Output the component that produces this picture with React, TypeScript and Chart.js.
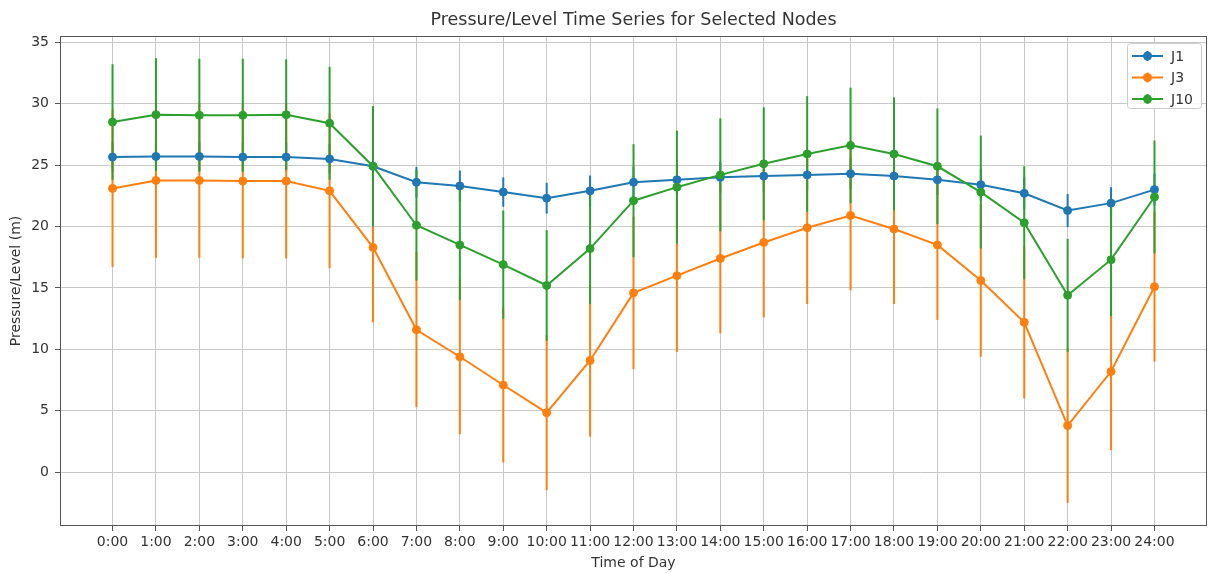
import { useEffect, useRef } from "react";
import { Chart, registerables } from "chart.js";

Chart.register(...registerables);

const hours = [0, 1, 2, 3, 4, 5, 6, 7, 8, 9, 10, 11, 12, 13, 14, 15, 16, 17, 18, 19, 20, 21, 22, 23, 24];
const hourLabels = [
  "0:00", "1:00", "2:00", "3:00", "4:00", "5:00", "6:00", "7:00", "8:00", "9:00", "10:00", "11:00",
  "12:00", "13:00", "14:00", "15:00", "16:00", "17:00", "18:00", "19:00", "20:00", "21:00", "22:00",
  "23:00", "24:00",
];
const yTicks = [0, 5, 10, 15, 20, 25, 30, 35];
const seriesNames = ["J1", "J3", "J10"];

const j1 = [25.65, 25.7, 25.7, 25.65, 25.65, 25.5, 24.9, 23.6, 23.3, 22.8, 22.3, 22.9, 23.6, 23.8, 24.0, 24.1, 24.2, 24.3, 24.1, 23.8, 23.4, 22.7, 21.3, 21.9, 23.0];
const j1Err = [1.2, 1.2, 1.2, 1.2, 1.2, 1.2, 1.25, 1.25, 1.25, 1.2, 1.25, 1.25, 1.25, 1.25, 1.25, 1.25, 1.25, 1.25, 1.25, 1.25, 1.3, 1.3, 1.35, 1.3, 1.3];

const j3 = [23.1, 23.75, 23.75, 23.7, 23.7, 22.9, 18.3, 11.6, 9.4, 7.1, 4.85, 9.1, 14.6, 16.0, 17.4, 18.7, 19.9, 20.9, 19.8, 18.5, 15.6, 12.2, 3.8, 8.2, 15.1];
const j3Err = [6.4, 6.3, 6.3, 6.3, 6.3, 6.3, 6.1, 6.3, 6.3, 6.3, 6.3, 6.2, 6.2, 6.2, 6.1, 6.1, 6.2, 6.1, 6.1, 6.1, 6.2, 6.2, 6.3, 6.4, 6.1];

const j10 = [28.5, 29.1, 29.05, 29.05, 29.1, 28.4, 24.9, 20.1, 18.5, 16.9, 15.2, 18.2, 22.1, 23.2, 24.2, 25.1, 25.9, 26.6, 25.9, 24.9, 22.8, 20.3, 14.4, 17.3, 22.4];
const j10Err = [4.7, 4.6, 4.6, 4.6, 4.5, 4.6, 4.9, 4.5, 4.5, 4.4, 4.5, 4.5, 4.6, 4.6, 4.6, 4.6, 4.7, 4.7, 4.6, 4.7, 4.6, 4.6, 4.6, 4.6, 4.6];

const colors = ["#1f77b4", "#ff7f0e", "#2ca02c"];
const FONT = "'DejaVu Sans', sans-serif";
const TEXT = "#333333";

export default function App() {
  const ref = useRef<HTMLCanvasElement>(null);

  useEffect(() => {
    document.body.style.margin = "0";
    if (!ref.current) return;
    const values = [j1, j3, j10];
    const errs = [j1Err, j3Err, j10Err];

    const errorBars = {
      id: "errorBars",
      beforeDatasetsDraw(chart: any) {
        const { ctx } = chart;
        const xs = chart.scales.x;
        const ys = chart.scales.y;
        ctx.save();
        values.forEach((vals, i) => {
          ctx.strokeStyle = colors[i];
          ctx.lineWidth = 2;
          vals.forEach((v, j) => {
            const px = xs.getPixelForValue(hours[j]);
            ctx.beginPath();
            ctx.moveTo(px, ys.getPixelForValue(v + errs[i][j]));
            ctx.lineTo(px, ys.getPixelForValue(v - errs[i][j]));
            ctx.stroke();
          });
        });
        ctx.restore();
      },
    };

    const frame = {
      id: "frame",
      afterDatasetsDraw(chart: any) {
        const { ctx, chartArea } = chart;
        ctx.save();
        ctx.strokeStyle = "#555555";
        ctx.lineWidth = 1;
        ctx.strokeRect(chartArea.left + 0.5, chartArea.top + 0.5, chartArea.right - chartArea.left - 1, chartArea.bottom - chartArea.top - 1);
        ctx.restore();
      },
    };

    const titleAndLegend = {
      id: "titleAndLegend",
      afterDraw(chart: any) {
        const { ctx, chartArea } = chart;
        ctx.save();
        ctx.fillStyle = TEXT;
        ctx.font = `17.5px ${FONT}`;
        ctx.textAlign = "center";
        ctx.textBaseline = "middle";
        ctx.fillText("Pressure/Level Time Series for Selected Nodes", (chartArea.left + chartArea.right) / 2, 20);

        // legend
        const bx = 1127, by = 43, bw = 74, bh = 65;
        ctx.beginPath();
        ctx.roundRect(bx + 0.5, by + 0.5, bw, bh, 3);
        ctx.fillStyle = "rgba(255,255,255,0.85)";
        ctx.fill();
        ctx.strokeStyle = "#cccccc";
        ctx.lineWidth = 1;
        ctx.stroke();
        const rows = [56, 77.5, 99];
        seriesNames.forEach((name, i) => {
          const y = rows[i];
          ctx.strokeStyle = colors[i];
          ctx.lineWidth = 2;
          ctx.beginPath();
          ctx.moveTo(1132, y);
          ctx.lineTo(1163, y);
          ctx.stroke();
          ctx.beginPath();
          ctx.moveTo(1147.5, y - 5);
          ctx.lineTo(1147.5, y + 5);
          ctx.stroke();
          ctx.beginPath();
          ctx.arc(1147.5, y, 4.5, 0, Math.PI * 2);
          ctx.fillStyle = colors[i];
          ctx.fill();
          ctx.fillStyle = TEXT;
          ctx.font = `14px ${FONT}`;
          ctx.textAlign = "left";
          ctx.textBaseline = "middle";
          ctx.fillText(name, 1171, y + 1);
        });
        ctx.restore();
      },
    };

    const chart = new Chart(ref.current, {
      type: "line",
      data: {
        datasets: values.map((vals, i) => ({
          label: seriesNames[i],
          data: vals.map((v, j) => ({ x: hours[j], y: v })),
          borderColor: colors[i],
          backgroundColor: colors[i],
          pointBackgroundColor: colors[i],
          pointBorderColor: colors[i],
          pointRadius: 4,
          pointBorderWidth: 1,
          borderWidth: 2,
          tension: 0,
          fill: false,
          order: 2 - i,
        })),
      },
      options: {
        animation: false,
        responsive: true,
        maintainAspectRatio: false,
        layout: { padding: { top: 36, right: 1, left: 0, bottom: 0 } },
        plugins: {
          legend: { display: false },
          title: { display: false },
          tooltip: { enabled: false },
        },
        scales: {
          x: {
            type: "linear",
            min: -1.21,
            max: 25.21,
            afterBuildTicks: (s: any) => {
              s.ticks = hours.map((v) => ({ value: v }));
            },
            afterFit: (s: any) => {
              s.height = 47;
            },
            ticks: {
              autoSkip: false,
              maxRotation: 0,
              minRotation: 0,
              padding: 3,
              color: TEXT,
              font: { family: FONT, size: 14 },
              callback: (v: any) => {
                const idx = hours.indexOf(Number(v));
                return idx >= 0 ? hourLabels[idx] : "";
              },
            },
            grid: { color: "#c8c8c8", lineWidth: 1, tickLength: 5, tickColor: "#555555", drawTicks: true },
            border: { display: false },
            title: {
              display: true,
              text: "Time of Day",
              color: TEXT,
              font: { family: FONT, size: 14 },
              padding: { top: 0, bottom: 1.6 },
            },
          },
          y: {
            type: "linear",
            min: -4.37,
            max: 35.5,
            afterBuildTicks: (s: any) => {
              s.ticks = yTicks.map((v) => ({ value: v }));
            },
            afterFit: (s: any) => {
              s.width = 60;
            },
            ticks: {
              padding: 6,
              color: TEXT,
              font: { family: FONT, size: 14 },
            },
            grid: { color: "#c8c8c8", lineWidth: 1, tickLength: 5, tickColor: "#555555", drawTicks: true },
            border: { display: false },
            title: {
              display: true,
              text: "Pressure/Level (m)",
              color: TEXT,
              font: { family: FONT, size: 14 },
              padding: { top: 7.5, bottom: 0 },
            },
          },
        },
      },
      plugins: [errorBars, frame, titleAndLegend],
    });
    return () => chart.destroy();
  }, []);

  return (
    <div style={{ position: "absolute", left: 0, top: 0, width: 1209, height: 573, overflow: "hidden", background: "#fff" }}>
      <div style={{ position: "relative", width: 1212, height: 573 }}>
        <canvas ref={ref} />
      </div>
    </div>
  );
}
